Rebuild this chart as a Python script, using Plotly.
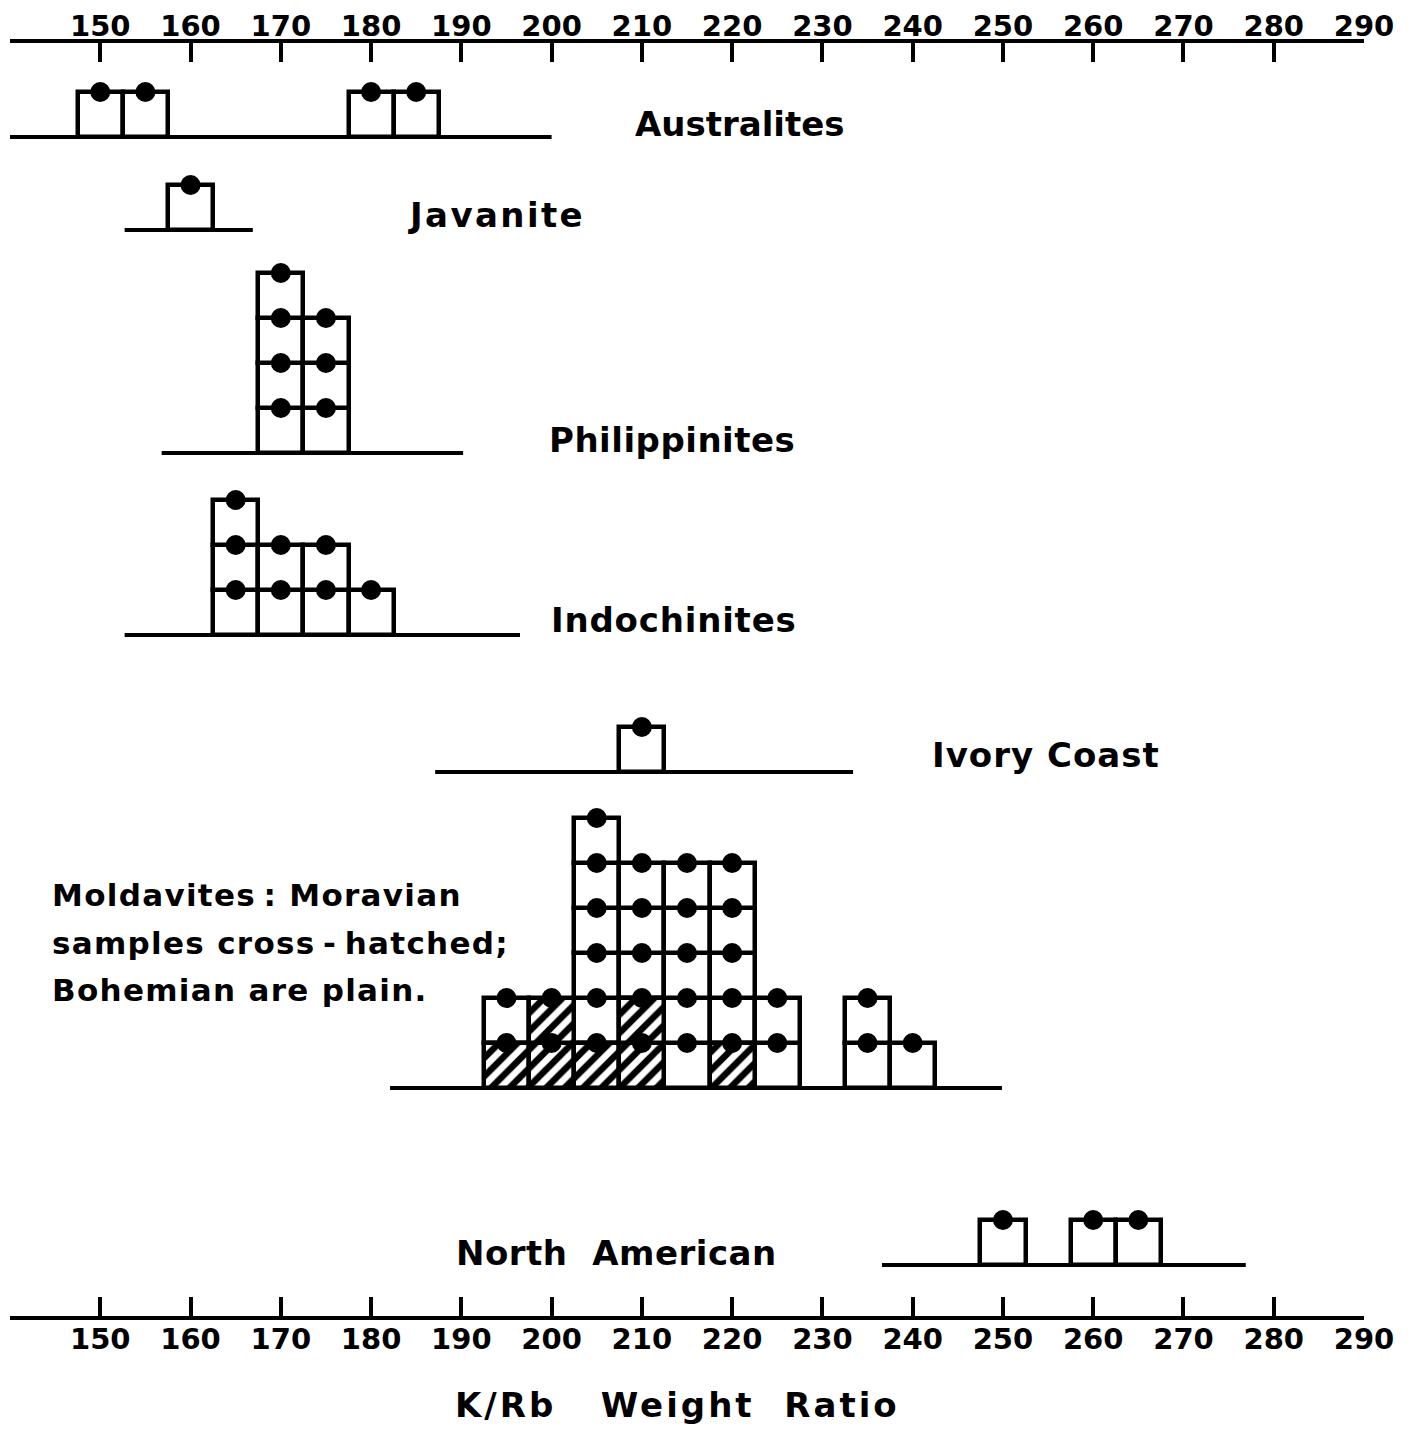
import plotly.graph_objects as go

# ---------------- data ----------------
groups = ["Australites", "Javanite", "Philippinites", "Indochinites",
          "Ivory Coast", "Moldavites", "North American"]
# K/Rb bin centres (bin width 5) and number of samples per bin
bins = {
    "Australites":   [150, 155, 180, 185],
    "Javanite":      [160],
    "Philippinites": [170, 175],
    "Indochinites":  [165, 170, 175, 180],
    "Ivory Coast":   [210],
    "Moldavites":    [195, 200, 205, 210, 215, 220, 225, 235, 240],
    "North American": [250, 260, 265],
}
counts = {
    "Australites":   [1, 1, 1, 1],
    "Javanite":      [1],
    "Philippinites": [4, 3],
    "Indochinites":  [3, 2, 2, 1],
    "Ivory Coast":   [1],
    "Moldavites":    [2, 2, 6, 5, 5, 5, 2, 2, 1],
    "North American": [1, 1, 1],
}
# Moravian (cross-hatched) samples within the moldavite bins
moravian = [1, 2, 1, 2, 0, 1, 0, 0, 0]
# extent of each group's base line (K/Rb)
base_from = [139.8, 152.7, 156.8, 152.7, 187.1, 182.1, 236.6]
base_to = [200.0, 166.9, 190.2, 196.5, 233.4, 249.9, 276.9]
tick_values = list(range(150, 300, 10))
tick_labels = [str(v) for v in tick_values]
bin_width = 5

# ---------------- layout helpers ----------------
W, H = 1413, 1435
ML, MR, MT, MB = 10, 49, 43, 119
CELL = 45.0  # pixel height of one sample
PLOT_H = H - MT - MB
YMAX = PLOT_H / CELL


def ypx(py):
    """pixel row -> y axis units (one unit = one sample)"""
    return (H - MB - py) / CELL


def xpaper(px):
    return (px - ML) / (W - ML - MR)


def ypaper(py):
    return (H - MB - py) / PLOT_H


baseline_px = [137, 230, 453, 635, 772, 1088, 1265]
label_pos = {  # centre x px, centre y px, letter spacing px
    "Australites": (740, 124, 0),
    "Javanite": (496, 215, 2.4),
    "Philippinites": (672, 440, 0.5),
    "Indochinites": (674, 620, 0.8),
    "Ivory Coast": (1046, 755, 1),
    "North\u00a0\u00a0American": (616, 1253, 0.5),
}

FONT = "DejaVu Sans"
fig = go.Figure()

# base lines
for g, x0, x1, bpx in zip(groups, base_from, base_to, baseline_px):
    b = ypx(bpx)
    fig.add_trace(go.Scatter(x=[x0, x1], y=[b, b], mode="lines",
                             line=dict(color="black", width=4),
                             showlegend=False, hoverinfo="skip"))

plain_x, plain_base, hatch_x, hatch_base, dot_x, dot_y = [], [], [], [], [], []
for g, bpx in zip(groups, baseline_px):
    b = ypx(bpx)
    for i, (c, n) in enumerate(zip(bins[g], counts[g])):
        nh = moravian[i] if g == "Moldavites" else 0
        for k in range(n):
            if k < nh:
                hatch_x.append(c)
                hatch_base.append(b + k)
            else:
                plain_x.append(c)
                plain_base.append(b + k)
            dot_x.append(c)
            dot_y.append(b + k + 1)

fig.add_trace(go.Bar(x=plain_x, y=[1] * len(plain_x), base=plain_base,
                     width=bin_width,
                     marker=dict(color="white",
                                 line=dict(color="black", width=4.5)),
                     showlegend=False, hoverinfo="skip"))
fig.add_trace(go.Bar(x=hatch_x, y=[1] * len(hatch_x), base=hatch_base,
                     width=bin_width,
                     marker=dict(color="white",
                                 line=dict(color="black", width=4.5),
                                 pattern=dict(shape="/", fgcolor="black",
                                              fgopacity=1, fillmode="overlay",
                                              size=13, solidity=0.5)),
                     showlegend=False, hoverinfo="skip"))
fig.add_trace(go.Scatter(x=dot_x, y=dot_y, mode="markers",
                         marker=dict(color="black", size=20),
                         showlegend=False, hoverinfo="skip"))
# invisible trace to carry the top axis
fig.add_trace(go.Scatter(x=[140, 290], y=[0, 0], xaxis="x2", mode="markers",
                         marker=dict(opacity=0), showlegend=False,
                         hoverinfo="skip"))

annotations = []
for g, (cx, cy, ls) in label_pos.items():
    annotations.append(dict(
        text=f'<span style="letter-spacing:{ls}px">{g}</span>',
        xref="paper", yref="paper", x=xpaper(cx), y=ypaper(cy),
        xanchor="center", yanchor="middle", showarrow=False,
        font=dict(family=FONT, size=34, color="black", weight="bold")))

mold_lines = ["Moldavites\u2009: Moravian", "samples cross\u2009-\u2009hatched;",
              "Bohemian are plain."]
for line, cy in zip(mold_lines, [895, 943, 990]):
    annotations.append(dict(
        text=f'<span style="letter-spacing:1.3px">{line}</span>',
        xref="paper", yref="paper", x=xpaper(50), y=ypaper(cy),
        xanchor="left", yanchor="middle", showarrow=False,
        font=dict(family=FONT, size=31, color="black", weight="bold")))

annotations.append(dict(
    text='<span style="letter-spacing:3px">K/Rb\u00a0\u00a0\u00a0Weight\u00a0\u00a0Ratio</span>',
    xref="paper", yref="paper", x=xpaper(677), y=ypaper(1405),
    xanchor="center", yanchor="middle", showarrow=False,
    font=dict(family=FONT, size=34, color="black", weight="bold")))

axis_common = dict(range=[140, 290], showgrid=False, zeroline=False,
                   showline=True, linecolor="black", linewidth=4,
                   ticks="inside", tickcolor="black", tickwidth=3.5,
                   ticklen=19, fixedrange=True, automargin=False,
                   tickfont=dict(family=FONT, size=29, color="black",
                                 weight="bold"))

fig.update_layout(
    width=W, height=H,
    margin=dict(l=ML, r=MR, t=MT, b=MB, autoexpand=False),
    paper_bgcolor="white", plot_bgcolor="white",
    barmode="overlay", bargap=0,
    xaxis=dict(**axis_common, tickmode="array", tickvals=tick_values,
               ticktext=tick_labels, side="bottom", ticklabelstandoff=-6),
    xaxis2=dict(**axis_common, tickmode="array",
                tickvals=[140] + tick_values, ticktext=[""] + tick_labels,
                side="top", overlaying="x", ticklabelstandoff=-9),
    yaxis=dict(range=[0, YMAX], visible=False, fixedrange=True,
               automargin=False),
    annotations=annotations,
    showlegend=False,
)

fig.write_html("out.html")
